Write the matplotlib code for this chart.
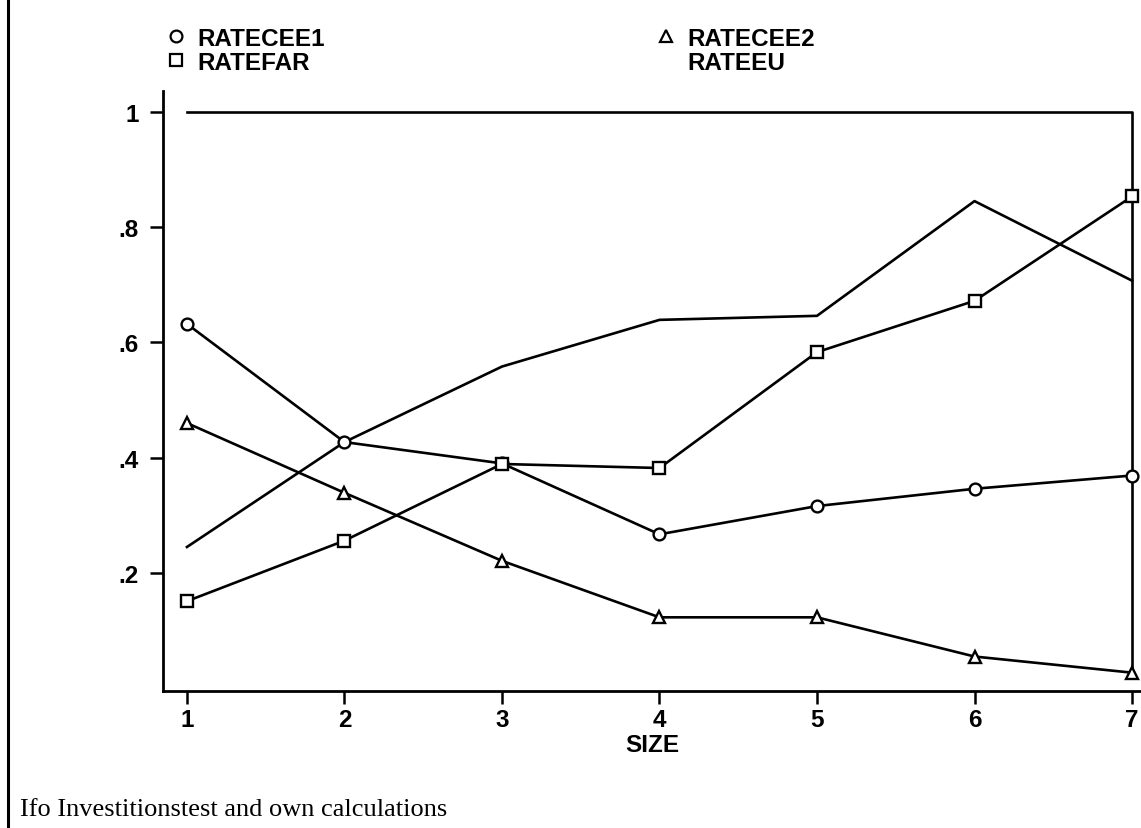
import matplotlib
matplotlib.use("Agg")
import matplotlib.pyplot as plt
from matplotlib.lines import Line2D

size = [1, 2, 3, 4, 5, 6, 7]
ratecee1 = [0.632, 0.427, 0.390, 0.267, 0.316, 0.346, 0.369]
ratecee2 = [0.460, 0.339, 0.221, 0.123, 0.123, 0.055, 0.027]
ratefar = [0.151, 0.256, 0.389, 0.382, 0.583, 0.672, 0.853]
rateeu = [0.245, 0.427, 0.558, 0.639, 0.646, 0.845, 0.707]

# upper rule and right drop drawn in the original
frame_x = [1, 7, 7]
frame_y = [1.0, 1.0, 0.027]

ytick_vals = [0.2, 0.4, 0.6, 0.8, 1.0]
ytick_labels = [".2", ".4", ".6", ".8", "1"]

sans = ["Liberation Sans", "DejaVu Sans"]
serif = ["Liberation Serif", "DejaVu Serif"]

fig = plt.figure(figsize=(11.41, 8.29), dpi=100)
ax = fig.add_axes([0.14286, 0.16526, 0.85714, 0.72376])

lw = 1.9
ms = 8.5
mk = dict(color="black", lw=lw, markerfacecolor="white",
          markeredgecolor="black", markeredgewidth=1.7, markersize=ms,
          clip_on=False)

ax.plot(frame_x, frame_y, color="black", lw=lw, clip_on=False)
ax.plot(size, rateeu, color="black", lw=lw, clip_on=False)
l1, = ax.plot(size, ratecee1, marker="o", **mk)
l3, = ax.plot(size, ratefar, marker="s", **mk)
l2, = ax.plot(size, ratecee2, marker="^", **mk)

ax.set_xlim(0.848, 7.057)
ax.set_ylim(-0.0048, 1.036)
ax.set_xticks(size)
ax.set_xticklabels([str(s) for s in size])
ax.set_yticks(ytick_vals)
ax.set_yticklabels(ytick_labels)

for side in ["top", "right"]:
    ax.spines[side].set_visible(False)
for side in ["left", "bottom"]:
    ax.spines[side].set_linewidth(2.0)

ax.tick_params(axis="both", direction="out", length=9.4, width=1.8,
               labelsize=17.5)
ax.tick_params(axis="x", pad=3)
ax.tick_params(axis="y", pad=8)
for lab in ax.get_xticklabels() + ax.get_yticklabels():
    lab.set_family(sans)
    lab.set_fontweight("bold")

ax.set_xlabel("SIZE", fontsize=17.5, fontweight="bold", family=sans,
              labelpad=1)

# legend: two columns, markers only
h1 = Line2D([], [], linestyle="none", marker="o", markerfacecolor="white",
            markeredgecolor="black", markeredgewidth=1.6, markersize=ms)
h3 = Line2D([], [], linestyle="none", marker="s", markerfacecolor="white",
            markeredgecolor="black", markeredgewidth=1.6, markersize=ms)
h2 = Line2D([], [], linestyle="none", marker="^", markerfacecolor="white",
            markeredgecolor="black", markeredgewidth=1.6, markersize=ms)
h4 = Line2D([], [], linestyle="none", marker="none")
fig.legend([h1, h3, h2, h4], ["RATECEE1", "RATEFAR", "RATECEE2", "RATEEU"],
           ncol=2, loc="upper left", bbox_to_anchor=(0.1455, 0.9665),
           frameon=False, borderpad=0, borderaxespad=0,
           handlelength=0.8, handletextpad=0.47, columnspacing=13.65,
           labelspacing=0.05,
           prop=dict(family=sans, weight="bold", size=17.5))

fig.add_artist(Line2D([0.0066, 0.0066], [0, 1], transform=fig.transFigure,
                      color="black", lw=2.2))

fig.text(0.0175, 0.0157, "Ifo Investitionstest and own calculations",
         ha="left", va="baseline", fontsize=19, family=serif)

fig.savefig("out.png", dpi=100)
